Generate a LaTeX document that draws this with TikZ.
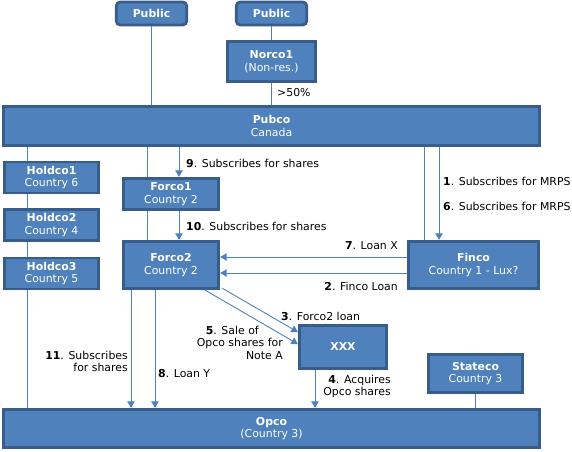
\documentclass[tikz,border=0pt]{standalone}
\usepackage{fontspec}
\setmainfont{DejaVu Sans}
\usetikzlibrary{arrows.meta}
\definecolor{boxfill}{HTML}{4F81BD}
\definecolor{boxline}{HTML}{385D8A}
\definecolor{wire}{HTML}{4F81BD}
\begin{document}
\begin{tikzpicture}[x=1pt,y=-1pt,
  font=\fontsize{10.9}{12.5}\selectfont,
  box/.style={draw=boxline, fill=boxfill, line width=2.8pt, text=white, align=center, inner sep=0pt},
  pub/.style={box, rounded corners=4pt},
  wireline/.style={draw=wire, line width=0.9pt},
  arr/.style={wireline, -{Triangle[width=7.5pt,length=6.5pt]}},
  lbl/.style={text=black, inner sep=0pt, align=right}
]
\useasboundingbox (0,0) rectangle (572,451);

% nodes
\node[pub, minimum width=70.5pt, minimum height=23pt] (pub1) at (151.5,13.5) {\textbf{Public}};
\node[pub, minimum width=70.5pt, minimum height=23pt] (pub2) at (271.5,13.5) {\textbf{Public}};
\node[box, minimum width=88.5pt, minimum height=40.5pt] (norco) at (271.5,61.5) {\textbf{Norco1}\\(Non-res.)};
\node[box, minimum width=536.5pt, minimum height=39.5pt] (pubco) at (271.5,126) {\textbf{Pubco}\\Canada};
\node[box, minimum width=94.5pt, minimum height=31pt] (h1) at (51.5,177.5) {\textbf{Holdco1}\\Country 6};
\node[box, minimum width=94.5pt, minimum height=31pt] (h2) at (51.5,225) {\textbf{Holdco2}\\Country 4};
\node[box, minimum width=94.5pt, minimum height=31pt] (h3) at (51.5,273.5) {\textbf{Holdco3}\\Country 5};
\node[box, minimum width=95.5pt, minimum height=31.5pt] (forco1) at (171,194) {\textbf{Forco1}\\Country 2};
\node[box, minimum width=95.5pt, minimum height=47.5pt] (forco2) at (171,265) {\textbf{Forco2}\\Country 2};
\node[box, minimum width=130.5pt, minimum height=47.5pt] (finco) at (473.5,265) {\textbf{Finco}\\Country 1 - Lux?};
\node[box, minimum width=87.5pt, minimum height=43.5pt] (xxx) at (343,347) {\textbf{XXX}};
\node[box, minimum width=94.5pt, minimum height=38.5pt] (stateco) at (475.5,373.5) {\textbf{Stateco}\\Country 3};
\node[box, minimum width=536.5pt, minimum height=38.5pt] (opco) at (271.5,428.5) {\textbf{Opco}\\(Country 3)};

% x positions
\coordinate (xh) at (27,0);
\coordinate (xf) at (147,0);
\coordinate (xa) at (179,0);
\coordinate (xp1) at (424,0);
\coordinate (xp2) at (439,0);
\coordinate (x11) at (131,0);
\coordinate (x8) at (155,0);
\coordinate (x4) at (315,0);
\coordinate (xs) at (475,0);
\coordinate (y7) at (0,257);
\coordinate (y2) at (0,273);

% plain lines
\draw[wireline] (pub1.south) -- (pub1.south |- pubco.north);
\draw[wireline] (pub2.south) -- (norco.north);
\draw[wireline] (norco.south) -- (pubco.north -| norco.south);
\draw[wireline] (pubco.south -| xh) -- (h1.north -| xh);
\draw[wireline] (h1.south -| xh) -- (h2.north -| xh);
\draw[wireline] (h2.south -| xh) -- (h3.north -| xh);
\draw[wireline] (h3.south -| xh) -- (opco.north -| xh);
\draw[wireline] (pubco.south -| xf) -- (forco1.north -| xf);
\draw[wireline] (forco1.south -| xf) -- (forco2.north -| xf);
\draw[wireline] (pubco.south -| xp1) -- (finco.north -| xp1);
\draw[wireline] (stateco.south -| xs) -- (opco.north -| xs);

% arrows
\draw[arr] (pubco.south -| xa) -- (forco1.north -| xa);
\draw[arr] (forco1.south -| xa) -- (forco2.north -| xa);
\draw[arr] (pubco.south -| xp2) -- (finco.north -| xp2);
\draw[arr] (finco.west |- y7) -- (forco2.east |- y7);
\draw[arr] (finco.west |- y2) -- (forco2.east |- y2);
\draw[arr] ([xshift=2pt,yshift=2pt]forco2.south east) -- ([yshift=15pt]xxx.west);
\draw[arr] ([xshift=-15pt]forco2.south east) -- ([yshift=3pt]xxx.west);
\draw[arr] (xxx.south -| x4) -- (opco.north -| x4);
\draw[arr] (forco2.south -| x11) -- (opco.north -| x11);
\draw[arr] (forco2.south -| x8) -- (opco.north -| x8);

% labels
\node[lbl, anchor=west] (l50) at (277,93) {>50\%};
\node[lbl, anchor=west] (l9) at (186,163) {\textbf{9}. Subscribes for shares};
\node[lbl, anchor=west] (l10) at (186,226) {\textbf{10}. Subscribes for shares};
\node[lbl, anchor=west] (l1) at (443,181) {\textbf{1}. Subscribes for MRPS};
\node[lbl, anchor=west] (l6) at (443,206) {\textbf{6}. Subscribes for MRPS};
\node[lbl, anchor=east] (l7) at (398,246) {\textbf{7}. Loan X};
\node[lbl, anchor=east] (l2) at (398,286) {\textbf{2}. Finco Loan};
\node[lbl, anchor=west] (l3) at (281,316) {\textbf{3}. Forco2 loan};
\node[lbl, anchor=north east] (l5) at (283,326) {\textbf{5}. Sale of\hspace*{24pt}\\Opco shares for\\Note A};
\node[lbl, anchor=north east] (l11) at (128,351) {\textbf{11}. Subscribes\\for shares};
\node[lbl, anchor=west] (l8) at (158,374) {\textbf{8}. Loan Y};
\node[lbl, anchor=north east] (l4) at (391,375) {\textbf{4}. Acquires\\Opco shares};
\end{tikzpicture}
\end{document}
